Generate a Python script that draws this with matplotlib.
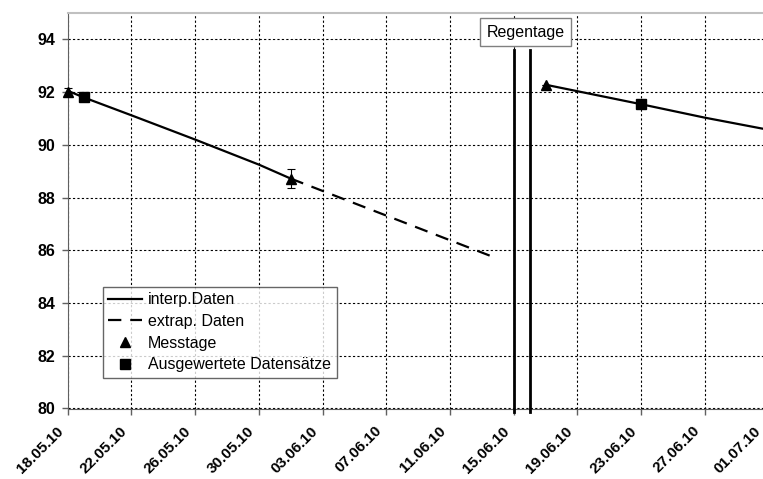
import matplotlib
matplotlib.use("Agg")
import matplotlib.pyplot as plt
import matplotlib.transforms as mtransforms
import pandas as pd

plt.rcParams['font.family'] = ['Liberation Sans', 'DejaVu Sans']

# interpolated data (solid)
interp1_dates = ["2010-05-18", "2010-05-19", "2010-05-22", "2010-05-26", "2010-05-30", "2010-06-01"]
interp1_vals = [92.05, 91.80, 91.12, 90.20, 89.25, 88.72]
interp2_dates = ["2010-06-17", "2010-06-23", "2010-06-27", "2010-07-01"]
interp2_vals = [92.28, 91.54, 91.03, 90.57]

# extrapolated data (dashed)
extrap_dates = ["2010-06-01", "2010-06-14"]
extrap_vals = [88.72, 85.68]

# measurement days
mess_dates = ["2010-05-18", "2010-06-01", "2010-06-17"]
mess_vals = [92.0, 88.72, 92.28]
mess_err = [0.15, 0.37, 0.0]

# evaluated data sets
ausw_dates = ["2010-05-19", "2010-06-23"]
ausw_vals = [91.80, 91.54]

# rain days
regen_dates = ["2010-06-15", "2010-06-16"]

tick_labels = ["18.05.10", "22.05.10", "26.05.10", "30.05.10", "03.06.10", "07.06.10",
               "11.06.10", "15.06.10", "19.06.10", "23.06.10", "27.06.10", "01.07.10"]
y_ticks = [80, 82, 84, 86, 88, 90, 92, 94]


def d(lst):
    return pd.to_datetime(lst)


fig = plt.figure(figsize=(7.63, 4.79), dpi=100)
W, H = 763, 479
x0, x1 = d(["2010-05-18"])[0], d(["2010-07-03"])[0]
left_px, px_day = 67.7, 15.93
n_days = (x1 - x0).days
ax = fig.add_axes([left_px / W, (H - 408.5) / H, n_days * px_day / W, (408.5 - 13) / H])

ax.plot(d(interp1_dates), interp1_vals, '-', color='black', lw=1.6, label='interp.Daten')
ax.plot(d(interp2_dates), interp2_vals, '-', color='black', lw=1.6)
ax.plot(d(extrap_dates), extrap_vals, color='black', lw=1.6, dashes=(6, 4), label='extrap. Daten')

ax.errorbar(d(mess_dates), mess_vals, yerr=mess_err, fmt='none', ecolor='black', elinewidth=0.8,
            capsize=3, capthick=0.8, clip_on=False)
ax.plot(d(mess_dates), mess_vals, '^', color='black', ms=7, ls='none', label='Messtage',
        clip_on=False, zorder=4)
ax.plot(d(ausw_dates), ausw_vals, 's', color='black', ms=6.5, ls='none', label='Ausgewertete Datensätze',
        clip_on=False, zorder=4)

for rd in d(regen_dates):
    ax.plot([rd, rd], [79.87, 93.6], color='black', lw=2, clip_on=False, zorder=5)

ax.text(d(["2010-06-15"])[0] + pd.Timedelta(hours=18), 94.27, "Regentage", fontsize=11.5,
        ha='center', va='center', zorder=6,
        bbox=dict(boxstyle='square,pad=0.42', facecolor='white', edgecolor='#808080', lw=1))

ax.set_xlim(x0, x1)
ax.set_ylim(80, 95)
ax.set_yticks(y_ticks)
ax.set_yticklabels([str(v) for v in y_ticks], fontsize=11.5, fontweight='bold')

tick_pos = pd.to_datetime(tick_labels, format="%d.%m.%y")
ax.set_xticks(tick_pos)
ax.set_xticklabels(tick_labels, fontsize=11, fontweight='bold', rotation=45,
                   ha='right', va='top', rotation_mode='anchor')

ax.grid(True, color='black', lw=0.8, linestyle=(0, (2, 2)))
ax.set_axisbelow(True)
ax.tick_params(axis='both', direction='out', length=4, color='#606060', width=1)
ax.tick_params(axis='y', pad=5)
ax.spines['left'].set_color('#606060')
ax.spines['bottom'].set_color('#606060')
ax.spines['top'].set_color('#c0c0c0')
ax.spines['top'].set_linewidth(1.5)
ax.spines['right'].set_visible(False)

leg = ax.legend(loc='upper left', bbox_to_anchor=((102.7 - left_px) / (n_days * px_day), (408.5 - 286.7) / 395.5),
                borderaxespad=0, fontsize=11.5, frameon=True, fancybox=False, edgecolor='#404040',
                handlelength=2.1, borderpad=0.35, labelspacing=0.42, handletextpad=0.4)
leg.get_frame().set_linewidth(1)

# shift rotated date labels down/left (ticks must exist first)
fig.canvas.draw()
ticks = ax.xaxis.get_major_ticks()
for i, tick in enumerate(ticks):
    dx = -8.5 if i < len(ticks) - 1 else -10.5  # last label sits at the image edge
    offset = mtransforms.ScaledTranslation(dx / 72, -3.5 / 72, fig.dpi_scale_trans)
    tick.label1.set_transform(tick.label1.get_transform() + offset)

fig.savefig("out.png", dpi=100)
